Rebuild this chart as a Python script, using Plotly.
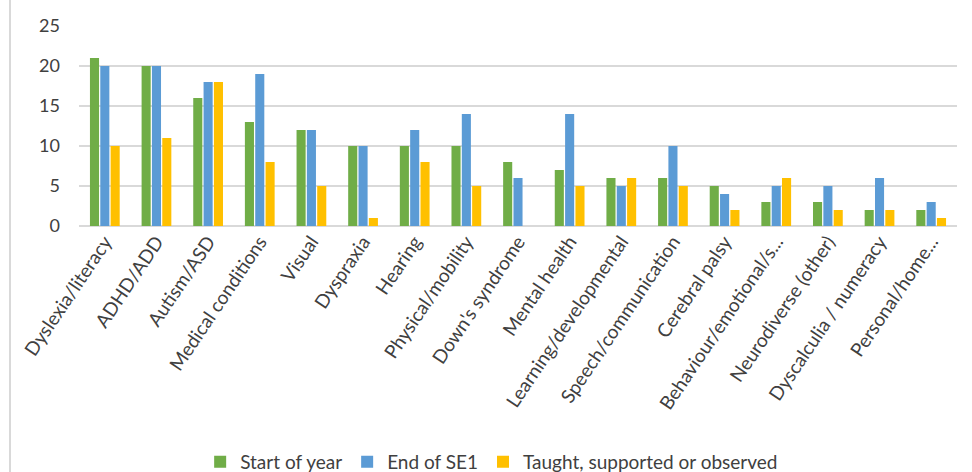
import plotly.graph_objects as go

categories = ["Dyslexia/literacy", "ADHD/ADD", "Autism/ASD", "Medical conditions", "Visual",
              "Dyspraxia", "Hearing", "Physical/mobility", "Down's syndrome", "Mental health",
              "Learning/developmental", "Speech/communication", "Cerebral palsy",
              "Behaviour/emotional/s...", "Neurodiverse (other)", "Dyscalculia / numeracy",
              "Personal/home..."]
start_of_year = [21, 20, 16, 13, 12, 10, 10, 10, 8, 7, 6, 6, 5, 3, 3, 2, 2]
end_of_se1 = [20, 20, 18, 19, 12, 10, 12, 14, 6, 14, 5, 10, 4, 5, 5, 6, 3]
taught = [10, 11, 18, 8, 5, 1, 8, 5, 0, 5, 6, 5, 2, 6, 2, 2, 1]
y_ticks = [0, 5, 10, 15, 20, 25]

FONT = "Lato"
fig = go.Figure()
for name, vals, col in [("Start of year", start_of_year, "#70AD47"),
                        ("End of SE1", end_of_se1, "#5B9BD5"),
                        ("Taught, supported or observed", taught, "#FFC000")]:
    fig.add_trace(go.Bar(x=categories, y=vals, name=name, marker_color=col,
                         marker_line_width=0))

fig.update_layout(
    width=972, height=472,
    margin=dict(l=79, r=15, t=26, b=246, autoexpand=False),
    paper_bgcolor="white", plot_bgcolor="white",
    barmode="group", bargap=0.4, bargroupgap=0.12,
    font=dict(family=FONT, size=18, color="#404040"),
    showlegend=True,
    legend=dict(orientation="h", x=0.47, xanchor="center", y=-1.18, yanchor="middle",
                font=dict(family=FONT, size=19, color="#404040"), itemwidth=30,
                traceorder="normal"),
    xaxis=dict(tickangle=-56, showgrid=False, showline=False, ticks="", automargin=False,
               tickfont=dict(family=FONT, size=19, color="#404040")),
    yaxis=dict(range=[0, 25], tickvals=y_ticks, showgrid=True, gridcolor="#D9D9D9",
               gridwidth=1.5, zeroline=True, zerolinecolor="#D9D9D9", zerolinewidth=1.5,
               ticks="", ticklabelstandoff=18, automargin=False,
               tickfont=dict(family=FONT, size=18, color="#404040")),
)
fig.add_shape(type="line", xref="paper", yref="paper",
              x0=(10 - 79) / 878, x1=(10 - 79) / 878, y0=-1.3, y1=1.13,
              line=dict(color="#D9D9D9", width=2))
fig.write_html("out.html")
